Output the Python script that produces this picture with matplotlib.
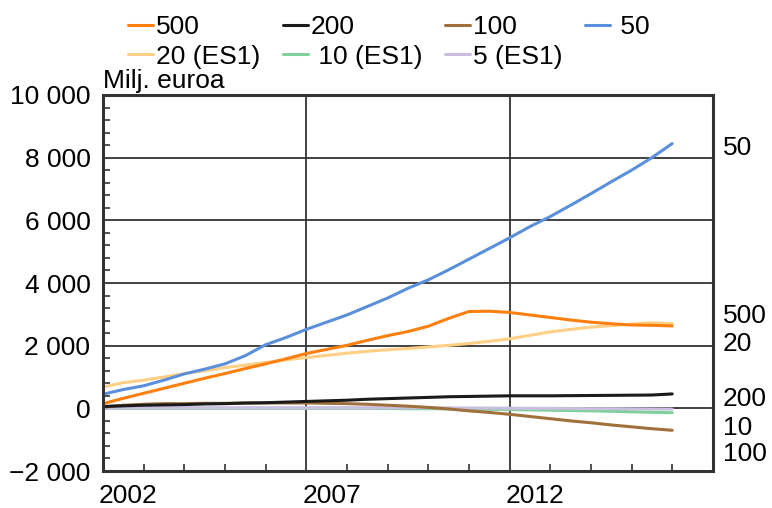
import matplotlib
matplotlib.use("Agg")
import matplotlib.pyplot as plt
import matplotlib.transforms as mtransforms
from matplotlib.ticker import FixedLocator, MultipleLocator, FuncFormatter
import numpy as np

plt.rcParams['font.family'] = ['Liberation Sans', 'DejaVu Sans']
plt.rcParams['font.size'] = 19

# --- data (milj. euroa), half-year points 2002.0 ... 2016.0 ---
years = np.arange(2002.0, 2016.5, 0.5)

e500 = [150, 320, 480, 640, 800, 960, 1110, 1270, 1420, 1580, 1750, 1880, 2010, 2170, 2320,
        2450, 2620, 2870, 3090, 3100, 3060, 2980, 2900, 2820, 2750, 2700, 2660, 2650, 2630]
e200 = [60, 80, 100, 110, 120, 140, 150, 170, 180, 200, 220, 240, 260, 290, 310,
        330, 350, 370, 380, 390, 400, 400, 400, 405, 410, 415, 420, 425, 460]
e100 = [40, 100, 130, 150, 150, 160, 160, 170, 170, 170, 170, 160, 150, 130, 100,
        70, 30, -20, -80, -130, -190, -260, -330, -400, -460, -530, -590, -650, -700]
e50 = [450, 600, 720, 900, 1100, 1250, 1420, 1680, 2030, 2260, 2520, 2750, 2980, 3250, 3520,
       3830, 4100, 4420, 4760, 5100, 5440, 5800, 6120, 6480, 6850, 7230, 7600, 8000, 8450]
e20 = [680, 820, 900, 1000, 1110, 1200, 1300, 1380, 1460, 1550, 1620, 1690, 1760, 1820, 1870,
       1910, 1960, 2010, 2070, 2140, 2220, 2330, 2440, 2520, 2590, 2640, 2690, 2730, 2700]
e10 = [0, 0, 0, 0, 0, 0, 0, 0, 0, 0, 0, 0, 0, 0, -5,
       -10, -10, -15, -20, -30, -40, -50, -60, -70, -80, -95, -110, -125, -140]
e5 = [10, 20, 20, 20, 20, 20, 20, 20, 20, 20, 20, 20, 20, 20, 20,
      20, 20, 15, 10, 10, 5, 0, 0, -5, -10, -10, -15, -20, -25]

series = [
    ("500", e500, "#ff7f0e"),
    ("200", e200, "#1a1a1a"),
    ("100", e100, "#a0703c"),
    (" 50", e50, "#5a8fdc"),
    ("20 (ES1)", e20, "#ffcf85"),
    (" 10 (ES1)", e10, "#7fcf9c"),
    ("5 (ES1)", e5, "#c9bde0"),
]
# draw order: light ones behind
draw_order = [4, 5, 6, 2, 1, 0, 3]
# legend is filled column by column -> order that reads row by row
legend_order = [0, 4, 1, 5, 2, 6, 3]

end_labels = ["50", "500", "20", "200", "10", "100"]
end_label_y = [8300, 2950, 2050, 300, -640, -1470]

fig = plt.figure(figsize=(7.72, 5.08), dpi=100)
ax = fig.add_axes([0.1334, 0.0728, 0.79, 0.7402])

lines = {}
for i in draw_order:
    name, vals, col = series[i]
    lines[i], = ax.plot(years, vals, color=col, lw=2.2, label=name, solid_capstyle='round')

ax.set_xlim(2002, 2017)
ax.set_ylim(-2000, 10000)

ax.yaxis.set_major_locator(MultipleLocator(2000))
ax.yaxis.set_minor_locator(MultipleLocator(400))
ax.yaxis.set_major_formatter(FuncFormatter(
    lambda v, p: f"{int(v):,}".replace(",", " ").replace("-", "\u2212")))
ax.xaxis.set_major_locator(FixedLocator([2002, 2007, 2012]))
ax.xaxis.set_minor_locator(MultipleLocator(1))
ax.xaxis.set_major_formatter(FuncFormatter(lambda v, p: f"{int(v)}"))

ax.grid(True, which='major', color='#333333', lw=1.3)
ax.tick_params(which='both', direction='in', color='#333333', right=False, top=False)
ax.tick_params(which='major', length=0, pad=9)
ax.tick_params(which='minor', length=5, width=1.2)
for s in ax.spines.values():
    s.set_color('#333333')
    s.set_linewidth(2.2)

offset = mtransforms.ScaledTranslation(-4 / 100, 0, fig.dpi_scale_trans)
for lab in ax.get_xticklabels():
    lab.set_ha('left')
    lab.set_transform(lab.get_transform() + offset)

ax.text(0.0, 1.006, "Milj. euroa", transform=ax.transAxes, ha='left', va='bottom')

trans = mtransforms.blended_transform_factory(ax.transAxes, ax.transData)
for lab, yv in zip(end_labels, end_label_y):
    ax.text(1.016, yv, lab, transform=trans, ha='left', va='center')

fig.legend([lines[i] for i in legend_order], [series[i][0] for i in legend_order],
           loc='upper left', ncol=4, bbox_to_anchor=(0.166, 0.97), frameon=False,
           handlelength=0.95, handletextpad=0.1, columnspacing=0.87, labelspacing=0.2,
           borderpad=0, borderaxespad=0)

fig.savefig("out.png", dpi=100)
